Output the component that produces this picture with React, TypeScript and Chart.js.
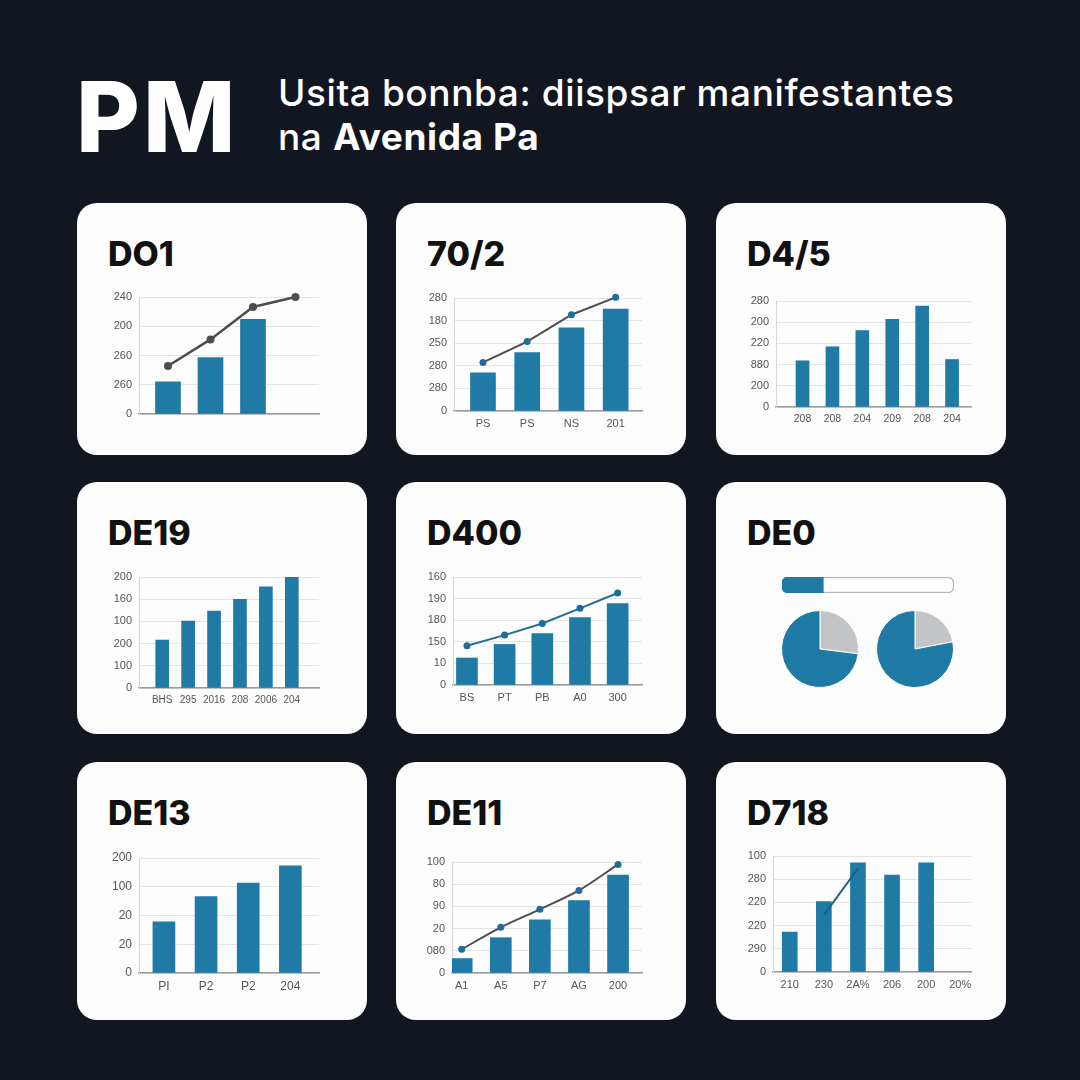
import React, { useEffect, useRef } from "react";
import { Chart, registerables } from "chart.js";

Chart.register(...registerables);

// ---------- DATA ----------
const titles = ["DO1", "70/2", "D4/5", "DE19", "D400", "DE0", "DE13", "DE11", "D718"];

const c1YTicks = ["0", "260", "260", "200", "240"];
const c1XLabels: string[] = [];
const c1Bars = [1.1, 1.93, 3.24, null];
const c1Line = [1.64, 2.55, 3.66, 4.0];

const c2YTicks = ["0", "280", "280", "250", "180", "280"];
const c2XLabels = ["PS", "PS", "NS", "201"];
const c2Bars = [1.69, 2.58, 3.68, 4.51];
const c2Line = [2.15, 3.07, 4.26, 5.03];

const c3YTicks = ["0", "200", "880", "220", "200", "280"];
const c3XLabels = ["208", "208", "204", "209", "208", "204"];
const c3Bars = [2.18, 2.84, 3.6, 4.13, 4.76, 2.24];

const c4YTicks = ["0", "100", "200", "100", "160", "200"];
const c4XLabels = ["BHS", "295", "2016", "208", "2006", "204"];
const c4Bars = [2.16, 3.02, 3.47, 3.99, 4.56, 5.0];

const c5YTicks = ["0", "10", "150", "180", "190", "160"];
const c5XLabels = ["BS", "PT", "PB", "A0", "300"];
const c5Bars = [1.25, 1.88, 2.38, 3.12, 3.77];
const c5Line = [1.82, 2.31, 2.85, 3.55, 4.26];

const progressValue = [24];
const progressTrack = [100];
const pieLeft = [27, 73];
const pieRight = [22, 78];

const c7YTicks = ["0", "20", "20", "100", "200"];
const c7XLabels = ["PI", "P2", "P2", "204"];
const c7Bars = [1.78, 2.66, 3.13, 3.73];

const c8YTicks = ["0", "080", "20", "90", "80", "100"];
const c8XLabels = ["A1", "A5", "P7", "AG", "200"];
const c8Bars = [0.65, 1.59, 2.4, 3.26, 4.41];
const c8Line = [1.07, 2.06, 2.87, 3.72, 4.89];

const c9YTicks = ["0", "290", "220", "220", "280", "100"];
const c9XLabels = ["210", "230", "2A%", "206", "200", "20%"];
const c9Bars = [1.72, 3.04, 4.71, 4.18, 4.71, null];
const c9Line = [null, 2.45, 4.46, null, null, null];

// ---------- STYLE ----------
const BG = "#111620";
const BLUE = "#1f7aa6";
const POINT_BLUE = "#1d6e96";
const DARK_LINE = "#4d4d4d";
const GRAY_SLICE = "#c3c4c6";
const TICK_COLOR = "#555";
const TICK_FONT = "'Liberation Sans', Arial, sans-serif";

const COLS = [77, 396, 716];
const ROWS = [203, 482, 762];
const CARD_W = 290;
const CARD_H = [252, 252, 258];

const Y_W = 40;
const X_H = 24;
const PAD_TOP = 8;
const PAD_RIGHT = 4;

type Spec = {
  plot: [number, number, number, number]; // L T R B (page px)
  yTicks: string[];
  xLabels: string[];
  bars: (number | null)[];
  line?: (number | null)[];
  lineColor?: string;
  pointColor?: string;
  pointR?: number;
  lineW?: number;
  tension?: number;
  xMin: number;
  xMax: number;
  barW: number;
  fontSize: number;
  xFontSize: number;
};

const specs: (Spec | null)[] = [
  {
    plot: [139, 297, 319, 414], yTicks: c1YTicks, xLabels: c1XLabels, bars: c1Bars, line: c1Line,
    lineColor: DARK_LINE, pointColor: DARK_LINE, pointR: 4, lineW: 2.5, tension: 0,
    xMin: -0.682, xMax: 3.553, barW: 25, fontSize: 11, xFontSize: 11,
  },
  {
    plot: [454, 298, 642, 411], yTicks: c2YTicks, xLabels: c2XLabels, bars: c2Bars, line: c2Line,
    lineColor: DARK_LINE, pointColor: POINT_BLUE, pointR: 3.5, lineW: 2, tension: 0,
    xMin: -0.655, xMax: 3.595, barW: 25, fontSize: 11, xFontSize: 11,
  },
  {
    plot: [776, 301, 971, 407], yTicks: c3YTicks, xLabels: c3XLabels, bars: c3Bars,
    xMin: -0.887, xMax: 5.633, barW: 13, fontSize: 11, xFontSize: 10.5,
  },
  {
    plot: [139, 577, 319, 688], yTicks: c4YTicks, xLabels: c4XLabels, bars: c4Bars,
    xMin: -0.896, xMax: 6.05, barW: 13, fontSize: 11, xFontSize: 10,
  },
  {
    plot: [453, 577, 642, 685], yTicks: c5YTicks, xLabels: c5XLabels, bars: c5Bars, line: c5Line,
    lineColor: "#1f6f98", pointColor: POINT_BLUE, pointR: 3.5, lineW: 2, tension: 0,
    xMin: -0.37, xMax: 4.646, barW: 21, fontSize: 11, xFontSize: 11,
  },
  null,
  {
    plot: [139, 858, 319, 973], yTicks: c7YTicks, xLabels: c7XLabels, bars: c7Bars,
    xMin: -0.591, xMax: 3.679, barW: 22, fontSize: 12, xFontSize: 12,
  },
  {
    plot: [452, 862, 642, 973], yTicks: c8YTicks, xLabels: c8XLabels, bars: c8Bars, line: c8Line,
    lineColor: DARK_LINE, pointColor: POINT_BLUE, pointR: 3.5, lineW: 2, tension: 0.3,
    xMin: -0.248, xMax: 4.613, barW: 21, fontSize: 11, xFontSize: 11,
  },
  {
    plot: [773, 856, 971, 972], yTicks: c9YTicks, xLabels: c9XLabels, bars: c9Bars, line: c9Line,
    lineColor: "#1d5f85", pointColor: "#1d5f85", pointR: 0, lineW: 2, tension: 0,
    xMin: -0.491, xMax: 5.315, barW: 15, fontSize: 11, xFontSize: 11,
  },
];

function barLineConfig(s: Spec): any {
  const datasets: any[] = [
    {
      type: "bar",
      data: s.bars.map((y, x) => ({ x, y })),
      backgroundColor: BLUE,
      barThickness: s.barW,
      order: 2,
    },
  ];
  if (s.line) {
    datasets.push({
      type: "line",
      data: s.line.map((y, x) => ({ x, y })),
      borderColor: s.lineColor,
      borderWidth: s.lineW,
      pointRadius: s.pointR,
      pointBackgroundColor: s.pointColor,
      pointBorderWidth: 0,
      tension: s.tension,
      spanGaps: false,
      clip: false,
      order: 1,
    });
  }
  const zeroPad = (sc: any) => {
    sc.paddingTop = 0;
    sc.paddingBottom = 0;
    sc.paddingLeft = 0;
    sc.paddingRight = 0;
  };
  return {
    type: "bar",
    data: { datasets },
    options: {
      responsive: false,
      animation: false,
      layout: { padding: { top: PAD_TOP, right: PAD_RIGHT, left: 0, bottom: 0 } },
      plugins: { legend: { display: false }, tooltip: { enabled: false } },
      scales: {
        x: {
          type: "linear",
          offset: false,
          min: s.xMin,
          max: s.xMax,
          grid: { display: false, drawTicks: false, offset: false },
          border: { display: true, color: "#9a9a9a", width: 1.5 },
          ticks: {
            stepSize: 1,
            includeBounds: false,
            autoSkip: false,
            maxRotation: 0,
            padding: 6,
            color: TICK_COLOR,
            font: { family: TICK_FONT, size: s.xFontSize },
            callback: (v: any) => s.xLabels[v] ?? "",
          },
          afterFit: (sc: any) => {
            sc.height = X_H;
            zeroPad(sc);
          },
        },
        y: {
          type: "linear",
          min: 0,
          max: s.yTicks.length - 1,
          grid: { color: "#e4e4e4", lineWidth: 1, drawTicks: false },
          border: { display: true, color: "#d6d6d6", width: 1 },
          ticks: {
            stepSize: 1,
            padding: 7,
            color: TICK_COLOR,
            font: { family: TICK_FONT, size: s.fontSize },
            callback: (v: any) => s.yTicks[v] ?? "",
          },
          afterFit: (sc: any) => {
            sc.width = Y_W;
            zeroPad(sc);
          },
        },
      },
    },
  };
}

function progressConfig(): any {
  return {
    type: "bar",
    data: {
      labels: ["p"],
      datasets: [
        {
          data: progressValue,
          backgroundColor: BLUE,
          borderWidth: 0,
          borderRadius: { topLeft: 6, bottomLeft: 6, topRight: 0, bottomRight: 0 },
          borderSkipped: false,
          barPercentage: 1,
          categoryPercentage: 1,
          grouped: false,
          order: 1,
        },
        {
          data: progressTrack,
          backgroundColor: "#ffffff",
          borderColor: "#b8b8b8",
          borderWidth: 1.5,
          borderRadius: 6,
          borderSkipped: false,
          barPercentage: 1,
          categoryPercentage: 1,
          grouped: false,
          order: 2,
        },
      ],
    },
    options: {
      indexAxis: "y",
      responsive: false,
      animation: false,
      layout: { padding: 2 },
      plugins: { legend: { display: false }, tooltip: { enabled: false } },
      scales: {
        x: { display: false, min: 0, max: 100 },
        y: { display: false },
      },
    },
  };
}

function pieConfig(values: number[]): any {
  return {
    type: "pie",
    data: {
      labels: ["a", "b"],
      datasets: [
        {
          data: values,
          backgroundColor: [GRAY_SLICE, BLUE],
          borderColor: "#ffffff",
          borderWidth: 1,
        },
      ],
    },
    options: {
      responsive: false,
      animation: false,
      layout: { padding: 0 },
      plugins: { legend: { display: false }, tooltip: { enabled: false } },
    },
  };
}

function ChartBox(props: { make: () => any; left: number; top: number; width: number; height: number }) {
  const ref = useRef<HTMLCanvasElement>(null);
  useEffect(() => {
    const chart = new Chart(ref.current as HTMLCanvasElement, props.make());
    return () => chart.destroy();
  }, []);
  return (
    <canvas
      ref={ref}
      width={props.width}
      height={props.height}
      style={{ position: "absolute", left: props.left, top: props.top, width: props.width, height: props.height }}
    />
  );
}

export default function App() {
  const cards = titles.map((t, i) => {
    const col = i % 3;
    const row = Math.floor(i / 3);
    return (
      <div
        key={"card" + i}
        style={{
          position: "absolute",
          left: COLS[col],
          top: ROWS[row],
          width: CARD_W,
          height: CARD_H[row],
          background: "#fdfdfd",
          borderRadius: 20,
        }}
      >
        <div
          style={{
            position: "absolute",
            left: 31,
            top: 34,
            fontFamily: "Inter, sans-serif",
            fontWeight: 800,
            fontSize: 34,
            lineHeight: "34px",
            color: "#111",
          }}
        >
          {t}
        </div>
      </div>
    );
  });

  const charts = specs.map((s, i) => {
    if (!s) return null;
    const [L, T, R, B] = s.plot;
    const left = L - Y_W;
    const top = T - PAD_TOP;
    const width = R - L + Y_W + PAD_RIGHT;
    const height = B - T + PAD_TOP + X_H;
    return <ChartBox key={"chart" + i} make={() => barLineConfig(s)} left={left} top={top} width={width} height={height} />;
  });

  return (
    <div
      style={{
        position: "fixed",
        left: 0,
        top: 0,
        width: 1080,
        height: 1080,
        background: BG,
        overflow: "hidden",
      }}
    >
      <div
        style={{
          position: "absolute",
          left: 76,
          top: 68,
          fontFamily: "Inter, sans-serif",
          fontWeight: 800,
          fontSize: 98,
          lineHeight: "98px",
          color: "#ffffff",
          letterSpacing: 3,
        }}
      >
        PM
      </div>
      <div
        style={{
          position: "absolute",
          left: 278,
          top: 71,
          fontFamily: "Inter, sans-serif",
          fontWeight: 500,
          fontSize: 37,
          lineHeight: "44px",
          letterSpacing: 0.6,
          color: "#ffffff",
          whiteSpace: "nowrap",
        }}
      >
        <div>Usita bonnba: diispsar manifestantes</div>
        <div>
          na <span style={{ fontWeight: 700 }}>Avenida Pa</span>
        </div>
      </div>
      {cards}
      {charts}
      <ChartBox make={progressConfig} left={780} top={575} width={176} height={20} />
      <ChartBox make={() => pieConfig(pieLeft)} left={781} top={610} width={78} height={78} />
      <ChartBox make={() => pieConfig(pieRight)} left={876} top={610} width={78} height={78} />
    </div>
  );
}
